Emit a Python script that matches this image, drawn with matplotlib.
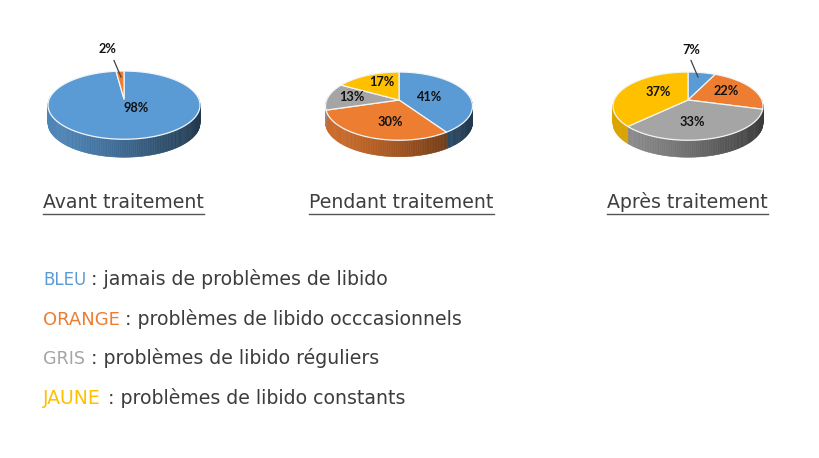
import numpy as np
import matplotlib
matplotlib.use("Agg")
import matplotlib.pyplot as plt
from matplotlib.colors import to_rgb

W, H = 819, 458
categories = ["BLEU", "ORANGE", "GRIS", "JAUNE"]
colors = ["#5b9bd5", "#ed7d31", "#a5a5a5", "#ffc000"]
descriptions = [": jamais de problèmes de libido", ": problèmes de libido occcasionnels",
                ": problèmes de libido réguliers", ": problèmes de libido constants"]
titles = ["Avant traitement", "Pendant traitement", "Après traitement"]
avant = [98, 2, 0, 0]
pendant = [41, 30, 13, 17]
apres = [7, 22, 33, 37]
series = [avant, pendant, apres]
value_labels = [["98%", "2%", "", ""], ["41%", "30%", "13%", "17%"], ["7%", "22%", "33%", "37%"]]

apex = [(124, 99), (399, 100), (688, 100)]
half_w = [76, 73.5, 75]
half_h = 33.0
persp = 0.18
depth = [18, 16.5, 17]
label_px = [[(136, 108), (107, 49)],
            [(430, 97), (390, 122), (352, 97), (382, 82)],
            [(691, 50), (726, 91), (692, 122), (658, 92)]]
label_map = [[0, 1], [0, 1, 2, 3], [0, 1, 2, 3]]
leaders = [[(114, 60.5), (121, 77)], None, [(691, 60.5), (698, 77)]]
title_x = [(43, 204), (309, 494), (607, 768)]
legend_y = [285, 325, 364, 404]
colon_x = [91, 125, 91, 108]
TEXT_FONT = "DejaVu Sans"
TEXT_SIZE = 13.6
CAT_SIZE = [12.0, 13.0, 12.6, 13.6]

fig = plt.figure(figsize=(W / 100, H / 100), dpi=100, facecolor="white")
base = fig.add_axes([0, 0, 1, 1])
base.set_xlim(0, W); base.set_ylim(H, 0); base.axis("off")


def project(theta, hw):
    c, s = np.sin(theta), np.cos(theta)
    den = 1 + persp * s
    return hw * np.sqrt(1 - persp ** 2) * c / den, -half_h * s / den


for i, vals in enumerate(series):
    ax0, ay0 = apex[i]
    total = sum(vals)
    edges = np.cumsum([0] + vals) / total * 2 * np.pi
    hw = half_w[i]
    for k, v in enumerate(vals):
        if v == 0:
            continue
        ts = np.linspace(edges[k], edges[k + 1], max(3, int(v * 3)))
        for a, b in zip(ts[:-1], ts[1:]):
            if np.cos((a + b) / 2) > 0.1:
                continue
            xa, ya = project(a, hw); xb, yb = project(b, hw)
            t = 0.5 + 0.5 * ((xa + xb) / 2) / hw
            shade = 0.86 - 0.50 * t ** 1.4
            rgb = tuple(np.array(to_rgb(colors[k])) * shade)
            base.fill([ax0 + xa, ax0 + xb, ax0 + xb, ax0 + xa],
                      [ay0 + ya, ay0 + yb, ay0 + yb + depth[i], ay0 + ya + depth[i]],
                      color=rgb, lw=0.4, zorder=2)
    for k, v in enumerate(vals):
        if v == 0:
            continue
        ts = np.linspace(edges[k], edges[k + 1], max(4, int(v * 4)))
        x, y = project(ts, hw)
        base.fill(np.r_[ax0, ax0 + x], np.r_[ay0, ay0 + y], facecolor=colors[k],
                  edgecolor="#f2f5f7", lw=0.9, zorder=3, joinstyle="round")
    for (lx, ly), idx in zip(label_px[i], label_map[i]):
        base.text(lx, ly, value_labels[i][idx], ha="center", va="center", family="Lato",
                  fontweight="bold", fontsize=9.2, color="#111111", zorder=6)
    if leaders[i]:
        (x0, y0), (x1, y1) = leaders[i]
        base.plot([x0, x1], [y0, y1], color="#444444", lw=0.9, zorder=5)
    x0, x1 = title_x[i]
    base.text(x0, 208, titles[i], ha="left", va="baseline", family=TEXT_FONT,
              fontsize=TEXT_SIZE, color="#3f3f3f", zorder=6)
    base.plot([x0, x1], [214, 214], color="#555555", lw=1.0, zorder=5)

for cat, col, desc, y, cx, cs in zip(categories, colors, descriptions, legend_y, colon_x, CAT_SIZE):
    base.text(43, y, cat, ha="left", va="baseline", family=TEXT_FONT, fontsize=cs, color=col)
    base.text(cx, y, desc, ha="left", va="baseline", family=TEXT_FONT, fontsize=TEXT_SIZE, color="#3d3d3d")

fig.savefig("out.png", dpi=100, facecolor="white")
